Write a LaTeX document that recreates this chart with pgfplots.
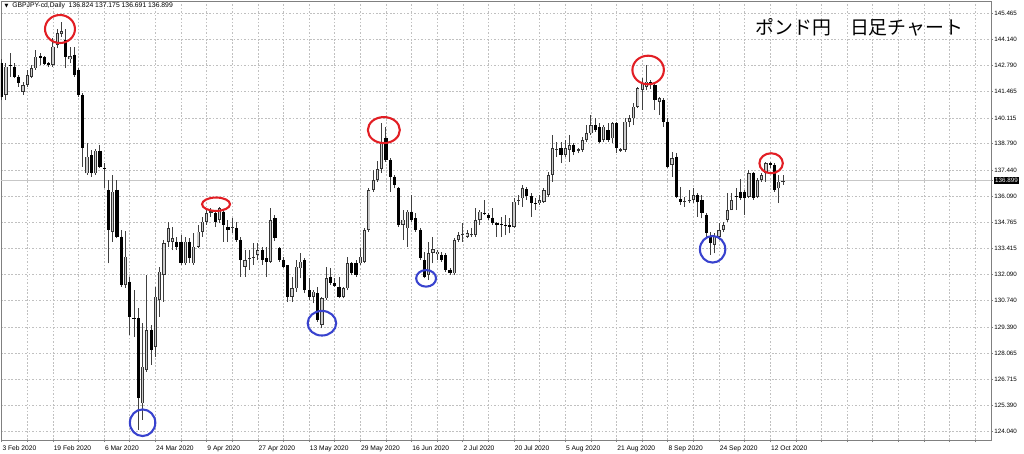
\documentclass[border=0pt]{standalone}
\usepackage{pgfplots}
\pgfplotsset{compat=1.18}
\usepackage{pgfplotstable}
\usepackage{fontspec}
\setmainfont{Liberation Sans}
\newfontfamily\jpfont{Noto Sans CJK JP}
\newfontfamily\symfont{DejaVu Sans}

\definecolor{mtred}{RGB}{226,30,36}
\definecolor{mtblue}{RGB}{56,66,206}
\definecolor{gridc}{RGB}{192,192,192}
\definecolor{framec}{RGB}{128,128,128}

% GBPJPY daily, bar index i (0 = 3 Feb 2020)
\pgfplotstableread{
i o h l c
0 142.91 143.12 141.03 141.20
1 141.29 142.91 141.03 142.74
2 142.82 143.43 142.23 142.76
3 142.74 142.91 142.14 142.23
4 142.23 142.31 141.70 141.89
5 141.46 141.97 141.29 141.80
6 141.80 142.57 141.68 142.31
7 142.23 142.83 142.14 142.66
8 142.66 143.59 142.57 143.25
9 143.29 143.43 142.83 143.17
10 143.25 143.30 142.80 142.88
11 142.95 143.00 142.70 142.83
12 142.83 144.19 142.74 143.76
13 143.85 144.65 143.68 144.45
14 144.41 145.05 144.28 144.57
15 144.11 144.65 142.66 143.25
16 143.12 143.76 142.91 143.29
17 143.34 143.76 142.23 142.31
18 142.57 142.66 141.20 141.29
19 141.29 141.40 137.61 138.55
20 137.27 138.81 137.19 138.13
21 138.20 138.47 137.10 137.27
22 137.27 138.50 137.19 138.44
23 138.44 138.73 137.53 137.62
24 137.55 137.79 136.50 137.49
25 136.42 136.93 132.66 134.37
26 134.28 137.19 133.77 136.33
27 136.42 136.93 133.94 134.03
28 134.03 134.37 131.46 131.55
29 131.55 134.30 131.40 133.00
30 131.72 131.97 128.99 129.93
31 129.87 131.29 128.90 129.81
32 129.84 130.35 124.12 125.74
33 125.48 129.58 124.63 127.36
34 127.19 132.06 127.10 129.24
35 129.24 129.50 127.45 128.22
36 128.39 131.46 127.88 130.95
37 130.78 132.49 129.93 132.23
38 132.06 133.86 130.70 133.69
39 133.77 134.80 133.50 134.45
40 133.77 134.54 133.34 133.94
41 133.77 134.03 133.34 133.52
42 133.77 134.11 132.58 132.66
43 132.66 134.03 132.60 133.77
44 133.77 133.94 132.66 132.92
45 132.66 134.20 132.58 133.52
46 133.52 134.63 133.43 134.28
47 134.28 135.05 134.03 134.80
48 134.80 135.39 134.63 135.22
49 135.26 135.48 135.05 135.32
50 135.22 135.31 134.54 134.80
51 134.88 135.53 134.71 135.48
52 135.31 135.39 133.77 134.63
53 134.54 134.88 133.77 134.37
54 134.48 134.97 134.20 134.54
55 134.45 134.80 133.77 133.86
56 133.86 134.03 131.98 132.83
57 132.49 133.34 131.98 132.83
58 132.88 133.34 132.32 132.94
59 132.93 133.69 132.58 132.99
60 133.09 133.69 132.83 133.34
61 133.34 133.52 132.58 132.83
62 132.92 133.52 131.98 132.75
63 132.75 135.48 132.70 134.88
64 134.97 135.14 133.80 133.94
65 133.43 133.50 132.75 132.83
66 132.83 133.00 132.40 132.49
67 132.58 132.60 130.70 130.95
68 130.95 131.98 130.70 131.38
69 131.38 132.83 131.20 132.49
70 132.40 133.17 131.89 132.75
71 132.83 132.92 131.12 131.29
72 131.29 131.89 130.78 130.95
73 130.95 131.29 130.61 131.21
74 131.12 131.46 129.67 129.76
75 129.50 130.95 129.33 130.87
76 130.87 132.49 130.78 131.89
77 131.98 132.40 131.55 131.64
78 131.64 131.89 131.46 131.52
79 131.46 131.98 130.87 130.95
80 130.95 131.46 130.87 131.38
81 131.38 133.00 131.29 132.66
82 132.66 132.75 132.06 132.15
83 132.66 132.83 131.98 132.06
84 132.66 133.43 132.58 133.00
85 132.75 134.45 132.66 134.37
86 134.37 136.50 134.28 136.42
87 136.42 137.44 136.33 136.93
88 136.93 137.90 136.85 137.50
89 137.50 139.83 137.30 138.85
90 139.07 139.66 137.87 137.96
91 137.96 138.04 136.33 137.10
92 137.10 137.19 136.50 136.67
93 136.50 136.59 134.54 134.62
94 134.62 135.40 133.85 134.90
95 134.45 135.39 133.51 135.31
96 135.31 136.16 134.80 134.88
97 134.97 135.22 134.28 134.37
98 134.37 134.45 132.83 132.92
99 132.83 133.26 131.89 131.98
100 132.06 133.77 131.80 133.17
101 133.20 134.03 132.66 133.38
102 133.12 133.35 132.83 133.26
103 133.10 133.26 132.75 132.83
104 133.09 133.17 132.23 132.32
105 132.32 132.40 132.06 132.15
106 132.15 133.94 132.06 133.86
107 133.86 134.28 133.77 134.11
108 134.09 134.71 133.77 134.15
109 134.03 134.37 133.94 134.20
110 134.09 134.45 134.03 134.15
111 134.11 135.48 134.03 134.88
112 134.88 135.39 134.62 135.31
113 135.26 135.91 135.14 135.20
114 135.14 135.22 134.88 134.97
115 135.00 135.48 134.62 134.71
116 134.71 134.80 134.03 134.60
117 134.66 135.05 134.03 134.60
118 134.63 135.14 134.11 134.57
119 134.62 134.97 134.20 134.54
120 134.54 135.99 134.45 135.82
121 135.85 136.16 135.65 135.90
122 135.99 136.67 135.57 136.50
123 136.45 136.59 135.91 136.11
124 136.11 136.25 135.05 135.74
125 135.75 135.99 135.39 135.69
126 135.74 136.16 135.65 135.91
127 135.82 136.50 135.74 136.42
128 136.16 137.36 136.08 137.19
129 137.19 139.24 136.85 138.55
130 138.48 138.89 138.13 138.54
131 138.55 138.89 137.79 138.20
132 138.21 138.98 138.13 138.55
133 138.47 139.24 137.87 138.72
134 138.72 138.81 138.21 138.38
135 138.44 138.55 138.30 138.50
136 138.47 139.15 138.38 138.98
137 138.98 139.75 138.89 139.32
138 139.32 140.26 139.24 139.75
139 139.75 140.09 139.41 139.49
140 139.66 139.84 138.81 138.89
141 138.98 139.75 138.89 139.66
142 139.49 139.84 138.89 138.98
143 139.07 139.92 138.81 139.84
144 139.84 139.92 138.30 138.55
145 138.44 138.55 138.38 138.50
146 138.47 140.09 138.38 139.92
147 139.92 140.26 139.66 140.09
148 140.09 140.86 139.75 140.69
149 140.69 141.71 140.60 141.63
150 141.54 142.14 140.52 141.89
151 141.71 142.83 141.54 141.97
152 141.97 142.06 141.60 141.80
153 141.80 141.89 140.52 141.03
154 140.95 141.20 140.26 141.12
155 141.03 141.12 139.66 139.92
156 139.92 140.09 137.55 137.61
157 137.70 138.38 137.10 138.04
158 138.13 138.30 135.99 136.08
159 135.95 136.59 135.65 135.82
160 135.80 136.08 135.57 135.86
161 135.84 136.42 135.74 135.90
162 135.91 136.50 135.74 136.16
163 136.16 136.25 135.05 135.82
164 135.91 136.16 134.97 135.22
165 135.14 135.22 134.03 134.20
166 134.03 134.28 133.09 133.69
167 133.60 134.20 133.17 134.03
168 134.03 134.71 133.86 134.37
169 134.37 134.80 134.28 134.63
170 134.88 136.25 134.80 135.39
171 135.39 136.25 135.39 135.91
172 136.10 136.50 135.39 136.04
173 136.33 137.00 135.91 135.99
174 136.33 136.42 135.14 135.99
175 136.08 137.44 135.99 137.27
176 137.27 137.36 135.91 135.99
177 136.08 137.02 135.99 136.93
178 136.93 137.27 136.85 137.19
179 137.27 137.87 136.85 137.79
180 137.79 137.87 137.53 137.70
181 137.70 137.79 136.33 136.42
182 136.50 137.19 135.74 136.85
183 136.824 137.175 136.691 136.899
}\candles

\begin{document}
\begin{tikzpicture}
\useasboundingbox (0,0) rectangle (737.28pt,326.88pt);
\begin{axis}[
    at={(0.72pt,10.08pt)}, anchor=south west,
    scale only axis, width=712.8pt, height=316.08pt,
    xmin=-0.164, xmax=231.7,
    ymin=123.605, ymax=146.106,
    axis line style={framec, line width=0.6pt},
    tick style={framec, line width=0.5pt},
    major tick length=1.6pt, minor tick length=1.6pt,
    xtick align=outside, ytick align=outside,
    xtick pos=lower, ytick pos=upper,
    yticklabel pos=upper,
    xtick={0,12,...,228},
    minor xtick={6,18,...,222},
    xticklabels={3 Feb 2020,19 Feb 2020,6 Mar 2020,24 Mar 2020,9 Apr 2020,27 Apr 2020,13 May 2020,29 May 2020,16 Jun 2020,2 Jul 2020,20 Jul 2020,5 Aug 2020,21 Aug 2020,8 Sep 2020,24 Sep 2020,12 Oct 2020,{},{},{},{}},
    ytick={124.040,125.390,126.715,128.065,129.390,130.740,132.090,133.415,134.765,136.090,137.440,138.790,140.115,141.465,142.790,144.140,145.465},
    yticklabels={124.040,125.390,126.715,128.065,129.390,130.740,132.090,133.415,134.765,136.090,137.440,138.790,140.115,141.465,142.790,144.140,145.465},
    xticklabel style={anchor=north west, inner sep=0pt, xshift=0.4pt, yshift=-2.2pt, font=\fontsize{4.8}{5}\selectfont},
    yticklabel style={anchor=west, inner sep=0pt, xshift=0.6pt, font=\fontsize{4.5}{5}\selectfont},
    extra y ticks={136.899},
    extra y tick labels={136.899},
    extra y tick style={grid=none, yticklabel style={fill=black, text=white, inner sep=0.7pt, xshift=-0.1pt}},
    grid=both,
    major grid style={gridc, line width=0.45pt, dash pattern=on 1.2pt off 1.3pt},
    minor grid style={gridc, line width=0.45pt, dash pattern=on 1.2pt off 1.3pt},
    clip mode=individual,
]
% current bid line
\addplot[black!22, line width=0.7pt] coordinates {(-1,136.899) (233,136.899)};

% wicks
\addplot[black!75, line width=0.72pt, quiver={u=0, v=\thisrow{h}-\thisrow{l}}]
    table[x=i, y=l] {\candles};

% bearish bodies
\addplot[black, line width=2.3pt,
    restrict expr to domain={\thisrow{c}-\thisrow{o}}{-100:-0.0001},
    quiver={u=0, v=\thisrow{c}-\thisrow{o}}]
    table[x=i, y=o] {\candles};

% bullish bodies: outline, then light fill
\addplot[black!80, line width=2.3pt,
    restrict expr to domain={\thisrow{c}-\thisrow{o}}{0:100},
    quiver={u=0, v=\thisrow{c}-\thisrow{o}}]
    table[x=i, y=o] {\candles};
\addplot[white!80!black, line width=0.9pt,
    restrict expr to domain={\thisrow{c}-\thisrow{o}}{0.12:100},
    quiver={u=0, v=\thisrow{c}-\thisrow{o},
        every arrow/.append style={shorten <=0.5pt, shorten >=0.5pt}}]
    table[x=i, y=o] {\candles};

% highlighted highs (red) and lows (blue)
\addplot[only marks, mark=o, mtred, line width=1.5pt, mark size=10.08pt, mark options={xscale=1.07}] coordinates {(13.65,144.67)};
\addplot[only marks, mark=o, mtred, line width=1.5pt, mark size=4.82pt, mark options={xscale=2.09}] coordinates {(50.2,135.69)};
\addplot[only marks, mark=o, mtred, line width=1.5pt, mark size=9.36pt, mark options={xscale=1.23}] coordinates {(89.5,139.49)};
\addplot[only marks, mark=o, mtred, line width=1.5pt, mark size=10.3pt, mark options={xscale=1.1}] coordinates {(151.4,142.57)};
\addplot[only marks, mark=o, mtred, line width=1.5pt, mark size=7.2pt, mark options={xscale=1.17}] coordinates {(180.2,137.79)};
\addplot[only marks, mark=o, mtblue, line width=1.5pt, mark size=9.58pt, mark options={xscale=0.955}] coordinates {(33.0,124.49)};
\addplot[only marks, mark=o, mtblue, line width=1.5pt, mark size=8.86pt, mark options={xscale=1.16}] coordinates {(75.0,129.59)};
\addplot[only marks, mark=o, mtblue, line width=1.5pt, mark size=5.98pt, mark options={xscale=1.2}] coordinates {(99.4,131.89)};
\addplot[only marks, mark=o, mtblue, line width=1.5pt, mark size=9.58pt, mark options={xscale=0.955}] coordinates {(166.5,133.38)};

% header and title
\node[anchor=west, inner sep=0pt, font=\symfont\fontsize{3.6}{4}\selectfont] at (rel axis cs:0.0035,0.9886) {▼};
\node[anchor=west, inner sep=0pt, font=\fontsize{4.9}{5}\selectfont] at (rel axis cs:0.0111,0.9886) {GBPJPY-cd,Daily\ \ 136.824 137.175 136.691 136.899};
\node[anchor=west, inner sep=0pt, font=\jpfont\fontsize{13.6}{14}\selectfont] at (rel axis cs:0.7620,0.9397) {ポンド円　日足チャート};
\end{axis}
\end{tikzpicture}
\end{document}
